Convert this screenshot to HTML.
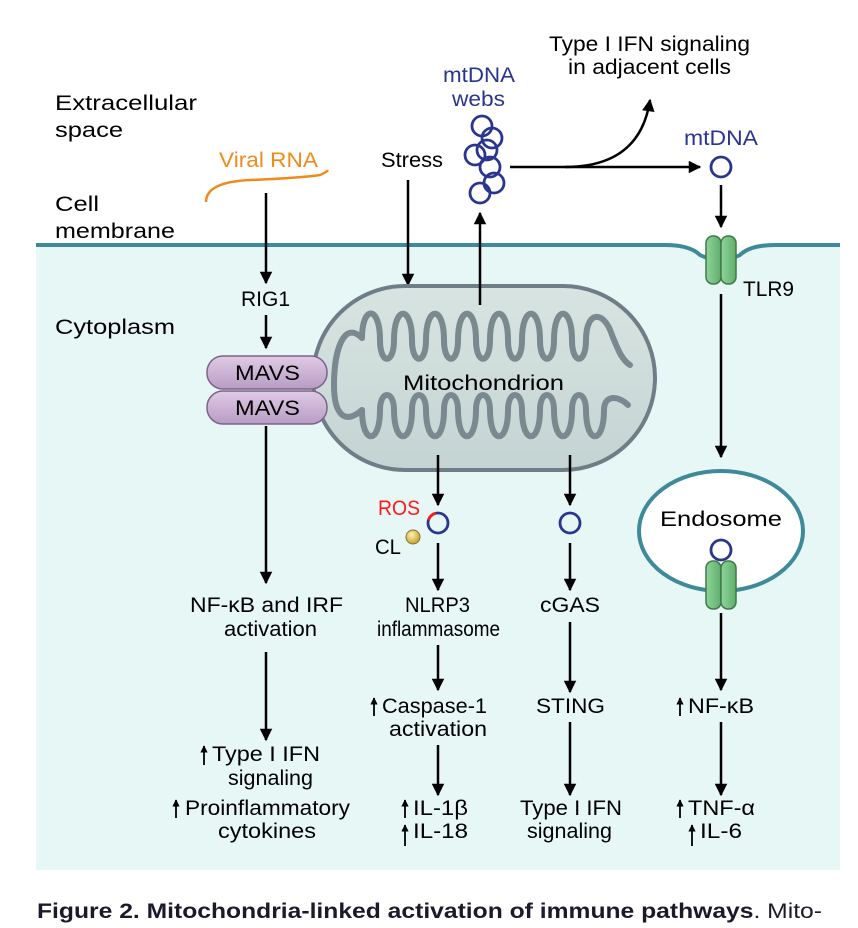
<!DOCTYPE html>
<html><head><meta charset="utf-8"><style>
html,body{margin:0;padding:0;background:#fff;}
svg{display:block;}
text{font-family:"Liberation Sans",sans-serif;font-size:21px;}
</style></head><body>
<svg width="858" height="928" viewBox="0 0 858 928" xmlns="http://www.w3.org/2000/svg">
<defs>
<marker id="ah" viewBox="0 0 10 10" refX="9" refY="5" markerWidth="6" markerHeight="5" orient="auto" markerUnits="strokeWidth"><path d="M0,0 L10,5 L0,10 z" fill="#000"/></marker>
<marker id="sa" viewBox="0 0 10 10" refX="9" refY="5" markerWidth="4" markerHeight="4" orient="auto" markerUnits="strokeWidth"><path d="M0,0 L10,5 L0,10 z" fill="#000"/></marker>
<linearGradient id="gm" x1="0" y1="0" x2="0" y2="1"><stop offset="0" stop-color="#d8e4e2"/><stop offset="1" stop-color="#c4d4d2"/></linearGradient>
<linearGradient id="pg" x1="0" y1="0" x2="0" y2="1"><stop offset="0" stop-color="#e0cbe6"/><stop offset="1" stop-color="#b89cc4"/></linearGradient>
<linearGradient id="gg" x1="0" y1="0" x2="1" y2="0"><stop offset="0" stop-color="#8fd49a"/><stop offset="1" stop-color="#5fae6c"/></linearGradient>
<radialGradient id="cl" cx="0.4" cy="0.35" r="0.6"><stop offset="0" stop-color="#fff2b0"/><stop offset="1" stop-color="#c9a640"/></radialGradient>
</defs>
<path d="M36,245 L665,245 Q690,245 700,255 Q720,265 740,255 Q750,245 775,245 L840,245 L840,870 L36,870 Z" fill="#e6f7f5"/>
<path d="M36,245 L665,245 Q690,245 700,255 Q720,265 740,255 Q750,245 775,245 L840,245" fill="none" stroke="#3e8a9a" stroke-width="4"/>

<g lengthAdjust="spacingAndGlyphs">
<text x="55" y="110" textLength="142" lengthAdjust="spacingAndGlyphs">Extracellular</text>
<text x="55" y="137" textLength="68" lengthAdjust="spacingAndGlyphs">space</text>
<text x="55" y="211" textLength="44" lengthAdjust="spacingAndGlyphs">Cell</text>
<text x="55" y="238" textLength="120" lengthAdjust="spacingAndGlyphs">membrane</text>
<text x="55" y="334" textLength="120" lengthAdjust="spacingAndGlyphs">Cytoplasm</text>
</g>

<text x="219" y="167" fill="#f08a1c" textLength="99" lengthAdjust="spacingAndGlyphs">Viral RNA</text>
<path d="M206,202 Q206,182 250,180 Q300,178 320,175 Q327,172 328,170" fill="none" stroke="#f08a1c" stroke-width="2.5"/>
<line x1="266" y1="193" x2="266" y2="283" stroke="#000" stroke-width="2.5" marker-end="url(#ah)"/>
<text x="241" y="306" textLength="49" lengthAdjust="spacingAndGlyphs">RIG1</text>
<line x1="266" y1="315" x2="266" y2="348" stroke="#000" stroke-width="2.5" marker-end="url(#ah)"/>

<text x="381" y="167" textLength="62" lengthAdjust="spacingAndGlyphs">Stress</text>
<line x1="408" y1="180" x2="408" y2="285" stroke="#000" stroke-width="2.5" marker-end="url(#ah)"/>

<rect x="313" y="286" width="342" height="184" rx="92" fill="url(#gm)" stroke="#6e7d86" stroke-width="4"/>
<g fill="none" stroke="#7a8990" stroke-width="6" stroke-linecap="round">
<path d="M362,338 C344,320 334,350 334,385 C334,415 345,425 362,410"/>
<path d="M362,338 C362,305 380,305 380,340 C380,365 394,365 394,340 C394,305 412,305 412,340 C412,365 426,365 426,340 C426,305 444,305 444,340 C444,365 458,365 458,340 C458,305 476,305 476,340 C476,365 490,365 490,340 C490,305 508,305 508,340 C508,365 522,365 522,340 C522,305 540,305 540,340 C540,365 554,365 554,340 C554,305 572,305 572,340 C572,365 586,365 586,340 C586,310 604,310 612,335 C618,350 622,360 630,365"/>
<path d="M362,410 C362,445 380,445 380,410 C380,390 394,390 394,410 C394,445 412,445 412,410 C412,390 426,390 426,410 C426,445 444,445 444,410 C444,390 458,390 458,410 C458,445 476,445 476,410 C476,390 490,390 490,410 C490,445 508,445 508,410 C508,390 522,390 522,410 C522,445 540,445 540,410 C540,390 554,390 554,410 C554,445 572,445 572,410 C572,390 586,390 586,410 C586,445 604,445 604,410 C604,395 618,395 628,405"/>
</g>
<text x="403" y="390" font-size="22" textLength="161" lengthAdjust="spacingAndGlyphs">Mitochondrion</text>

<rect x="207" y="391" width="120" height="33" rx="16" fill="url(#pg)" stroke="#7d6388" stroke-width="1.5"/>
<rect x="207" y="356" width="120" height="33" rx="16" fill="url(#pg)" stroke="#7d6388" stroke-width="1.5"/>
<text x="235" y="380" textLength="65" lengthAdjust="spacingAndGlyphs">MAVS</text>
<text x="235" y="415" textLength="65" lengthAdjust="spacingAndGlyphs">MAVS</text>

<text x="443" y="82" fill="#2a3590" textLength="72" lengthAdjust="spacingAndGlyphs">mtDNA</text>
<text x="452" y="106" fill="#2a3590" textLength="53" lengthAdjust="spacingAndGlyphs">webs</text>
<g fill="none" stroke="#2a3590" stroke-width="2.8">
<circle cx="482" cy="126" r="10"/><circle cx="492" cy="138" r="10"/><circle cx="475" cy="155" r="10"/>
<circle cx="487" cy="150" r="10"/><circle cx="490" cy="167" r="10"/><circle cx="494" cy="183" r="10"/><circle cx="480" cy="193" r="10"/>
</g>
<line x1="480" y1="305" x2="480" y2="213" stroke="#000" stroke-width="2.5" marker-end="url(#ah)"/>
<line x1="510" y1="167" x2="700" y2="167" stroke="#000" stroke-width="2.5" marker-end="url(#ah)"/>
<path d="M565,167 Q640,167 650,100" fill="none" stroke="#000" stroke-width="2.5" marker-end="url(#ah)"/>
<text x="549" y="51" textLength="201" lengthAdjust="spacingAndGlyphs">Type I IFN signaling</text>
<text x="568" y="74" textLength="163" lengthAdjust="spacingAndGlyphs">in adjacent cells</text>
<text x="684" y="145" fill="#2a3590" textLength="74" lengthAdjust="spacingAndGlyphs">mtDNA</text>
<circle cx="721" cy="167" r="10" fill="none" stroke="#2a3590" stroke-width="2.8"/>
<line x1="721" y1="185" x2="721" y2="227" stroke="#000" stroke-width="2.5" marker-end="url(#ah)"/>

<rect x="706" y="236" width="15" height="48" rx="7" fill="url(#gg)" stroke="#3e7a48" stroke-width="1.5"/>
<rect x="721" y="236" width="15" height="48" rx="7" fill="url(#gg)" stroke="#3e7a48" stroke-width="1.5"/>
<text x="743" y="296" textLength="51" lengthAdjust="spacingAndGlyphs">TLR9</text>
<line x1="721" y1="294" x2="721" y2="457" stroke="#000" stroke-width="2.5" marker-end="url(#ah)"/>

<ellipse cx="721" cy="531" rx="82" ry="60" fill="#fff" stroke="#3e8a9a" stroke-width="4"/>
<text x="660" y="526" font-size="24" textLength="122" lengthAdjust="spacingAndGlyphs">Endosome</text>
<circle cx="721" cy="550" r="10" fill="none" stroke="#2a3590" stroke-width="2.8"/>
<rect x="706" y="561" width="15" height="48" rx="7" fill="url(#gg)" stroke="#3e7a48" stroke-width="1.5"/>
<rect x="721" y="561" width="15" height="48" rx="7" fill="url(#gg)" stroke="#3e7a48" stroke-width="1.5"/>
<line x1="721" y1="613" x2="721" y2="690" stroke="#000" stroke-width="2.5" marker-end="url(#ah)"/>
<text x="688" y="713" textLength="66" lengthAdjust="spacingAndGlyphs">NF-κB</text>
<line x1="680" y1="716" x2="680" y2="698" stroke="#000" stroke-width="1.8" marker-end="url(#sa)"/>
<line x1="721" y1="722" x2="721" y2="795" stroke="#000" stroke-width="2.5" marker-end="url(#ah)"/>
<text x="688" y="815" textLength="67" lengthAdjust="spacingAndGlyphs">TNF-α</text>
<line x1="680" y1="818" x2="680" y2="800" stroke="#000" stroke-width="1.8" marker-end="url(#sa)"/>
<text x="700" y="838" textLength="42" lengthAdjust="spacingAndGlyphs">IL-6</text>
<line x1="692" y1="846" x2="692" y2="825" stroke="#000" stroke-width="1.8" marker-end="url(#sa)"/>

<line x1="266" y1="426" x2="266" y2="583" stroke="#000" stroke-width="2.5" marker-end="url(#ah)"/>
<text x="190" y="612" textLength="153" lengthAdjust="spacingAndGlyphs">NF-κB and IRF</text>
<text x="224" y="636" textLength="93" lengthAdjust="spacingAndGlyphs">activation</text>
<line x1="266" y1="652" x2="266" y2="740" stroke="#000" stroke-width="2.5" marker-end="url(#ah)"/>
<text x="212" y="761" textLength="108" lengthAdjust="spacingAndGlyphs">Type I IFN</text>
<line x1="204" y1="765" x2="204" y2="746" stroke="#000" stroke-width="1.8" marker-end="url(#sa)"/>
<text x="228" y="785" textLength="85" lengthAdjust="spacingAndGlyphs">signaling</text>
<text x="185" y="815" textLength="165" lengthAdjust="spacingAndGlyphs">Proinflammatory</text>
<line x1="176" y1="818" x2="176" y2="800" stroke="#000" stroke-width="1.8" marker-end="url(#sa)"/>
<text x="218" y="838" textLength="98" lengthAdjust="spacingAndGlyphs">cytokines</text>

<line x1="438" y1="455" x2="438" y2="505" stroke="#000" stroke-width="2.5" marker-end="url(#ah)"/>
<text x="378" y="515" fill="#ff1a1a" textLength="42" lengthAdjust="spacingAndGlyphs">ROS</text>
<circle cx="438" cy="523" r="10" fill="none" stroke="#2a3590" stroke-width="2.8"/>
<path d="M428.5,520 A10,10 0 0 1 436,513.2" fill="none" stroke="#ff1a1a" stroke-width="2.8"/>
<circle cx="413" cy="537" r="7" fill="url(#cl)" stroke="#8a7420" stroke-width="1"/>
<text x="375" y="554" textLength="26" lengthAdjust="spacingAndGlyphs">CL</text>
<line x1="438" y1="543" x2="438" y2="590" stroke="#000" stroke-width="2.5" marker-end="url(#ah)"/>
<text x="405" y="612" textLength="65" lengthAdjust="spacingAndGlyphs">NLRP3</text>
<text x="377" y="636" textLength="123" lengthAdjust="spacingAndGlyphs">inflammasome</text>
<line x1="438" y1="645" x2="438" y2="690" stroke="#000" stroke-width="2.5" marker-end="url(#ah)"/>
<text x="382" y="713" textLength="105" lengthAdjust="spacingAndGlyphs">Caspase-1</text>
<line x1="374" y1="716" x2="374" y2="698" stroke="#000" stroke-width="1.8" marker-end="url(#sa)"/>
<text x="389" y="736" textLength="98" lengthAdjust="spacingAndGlyphs">activation</text>
<line x1="438" y1="745" x2="438" y2="795" stroke="#000" stroke-width="2.5" marker-end="url(#ah)"/>
<text x="413" y="815" textLength="55" lengthAdjust="spacingAndGlyphs">IL-1β</text>
<line x1="405" y1="818" x2="405" y2="800" stroke="#000" stroke-width="1.8" marker-end="url(#sa)"/>
<text x="413" y="838" textLength="55" lengthAdjust="spacingAndGlyphs">IL-18</text>
<line x1="405" y1="846" x2="405" y2="825" stroke="#000" stroke-width="1.8" marker-end="url(#sa)"/>

<line x1="570" y1="455" x2="570" y2="505" stroke="#000" stroke-width="2.5" marker-end="url(#ah)"/>
<circle cx="570" cy="523" r="10" fill="none" stroke="#2a3590" stroke-width="2.8"/>
<line x1="570" y1="543" x2="570" y2="590" stroke="#000" stroke-width="2.5" marker-end="url(#ah)"/>
<text x="540" y="612" textLength="60" lengthAdjust="spacingAndGlyphs">cGAS</text>
<line x1="570" y1="622" x2="570" y2="692" stroke="#000" stroke-width="2.5" marker-end="url(#ah)"/>
<text x="536" y="713" textLength="69" lengthAdjust="spacingAndGlyphs">STING</text>
<line x1="570" y1="722" x2="570" y2="795" stroke="#000" stroke-width="2.5" marker-end="url(#ah)"/>
<text x="520" y="815" textLength="102" lengthAdjust="spacingAndGlyphs">Type I IFN</text>
<text x="527" y="838" textLength="85" lengthAdjust="spacingAndGlyphs">signaling</text>

<text x="37" y="918" font-size="22" fill="#1a1a2a" style="font-family:'Liberation Sans Narrow','Liberation Sans',sans-serif" textLength="785" lengthAdjust="spacingAndGlyphs"><tspan font-weight="bold">Figure 2. Mitochondria-linked activation of immune pathways</tspan>. Mito-</text>
</svg>
</body></html>
